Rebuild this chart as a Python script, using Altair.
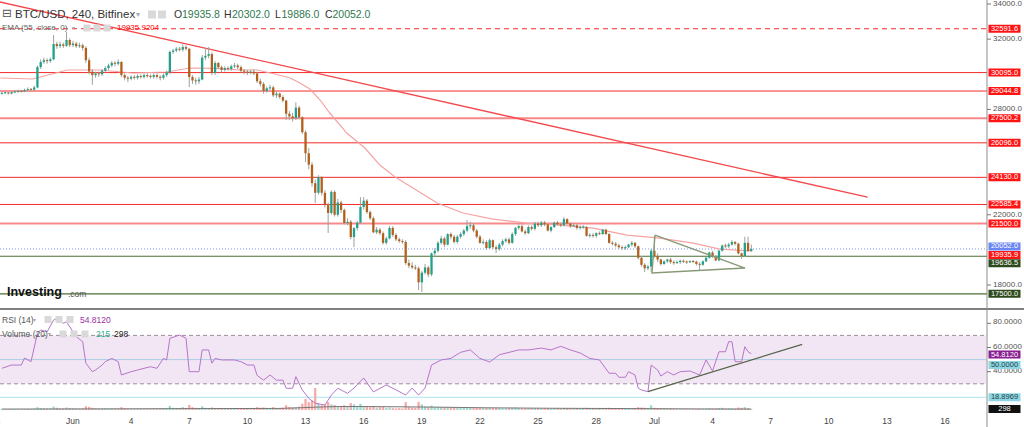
import altair as alt
import pandas as pd
import numpy as np

# ---------------- data ----------------
FIRST_CANDLE = "2022-05-28 08:00"   # 4h candles
FIRST_OPEN = 28900.0

close = [
    28930, 28960, 28900, 28980,
    29000, 29050, 29020, 29100, 29150, 29120,
    29250, 30410, 30700, 30800, 30750, 30850,
    31720, 31600, 31700, 31620, 31950, 31660,
    31750, 31600, 31650, 31500, 30800, 30150,
    29950, 30050, 30000, 30200, 30350, 30500,
    30650, 30600, 30700, 29950, 29800, 29750,
    29850, 29800, 29900, 29850, 29950, 29900,
    29850, 29950, 29850, 29800, 29950, 30100,
    31270, 31350, 31450, 31400, 31550, 31450,
    29840, 29650, 29600, 29700, 30950, 31050,
    31150, 30070, 30640, 30400, 30250, 30350,
    30300, 30450, 30500, 30400, 30200, 30150,
    30100, 30150, 30050, 29600, 29450, 29050,
    29200, 29250, 28800, 28900, 28700, 28500,
    27750, 27600, 27500, 28100, 27550, 26700,
    25500, 24850, 23800, 23250, 24150, 23250,
    22550, 22100, 23300, 22000, 22700, 22270,
    21530, 21600, 20730, 21240, 21550, 22440,
    22800, 22150, 21800, 21000, 21150, 20950,
    20400, 20650, 21250, 20850, 20600, 20500,
    20450, 19250, 19100, 19000, 18950, 18150,
    18700, 19000, 18600, 19800, 19950, 20400,
    20650, 20300, 20900, 20750, 20450, 20750,
    20900, 21100, 21350, 21400, 21100, 20750,
    20400, 20450, 20100, 20550, 20150, 20050,
    20300, 20500, 20600, 20400, 20900, 21250,
    21350, 21050, 20950, 21300, 21200, 21500,
    21400, 21550, 21450, 21100, 21300, 21550,
    21450, 21400, 21750, 21500, 21350, 21400,
    21250, 21300, 21300, 20800, 20850, 20800,
    20950, 20900, 21150, 20900, 20400, 20350,
    20250, 20150, 20100, 20150, 20300, 20400,
    20200, 19550, 19150, 18950, 19050, 19950,
    19650, 19450, 19200, 19350, 19450, 19300,
    19250, 19300, 19380, 19320, 19300, 19350,
    19330, 19200, 19150, 19350, 19550, 19850,
    19600, 19400, 19950, 20250, 20200, 20300,
    20450, 20350, 19800, 19650, 20400, 19935.8,
    20052.0,
]
high = [
    29000, 29030, 29000, 29040,
    29080, 29120, 29100, 29180, 29250, 29220,
    29350, 30500, 30850, 30950, 30900, 30950,
    32235, 31850, 31850, 31800, 32400, 32050,
    31900, 31850, 31800, 31750, 31600, 30950,
    30300, 30150, 30150, 30300, 30450, 30600,
    30750, 30750, 30850, 30750, 30050, 29900,
    29950, 29950, 30000, 29980, 30050, 30050,
    30000, 30050, 30050, 29950, 30050, 30200,
    31350, 31450, 31550, 31550, 31700, 31650,
    31500, 29950, 29800, 29850, 31100, 31500,
    31550, 31250, 30750, 30700, 30500, 30450,
    30450, 30550, 30650, 30600, 30500, 30300,
    30250, 30250, 30300, 30150, 29750, 29550,
    29300, 29400, 29350, 29000, 28950, 28800,
    28550, 27900, 27800, 28400, 28200, 27600,
    26800, 25800, 25000, 24000, 24250, 24200,
    23400, 22700, 23400, 23400, 22900, 22800,
    22350, 21800, 21700, 21300, 21650, 23000,
    23000, 22900, 22250, 21900, 21300, 21250,
    21050, 20750, 21350, 21350, 20950, 20700,
    20600, 20550, 19450, 19300, 19150, 19050,
    18800, 19200, 19100, 19850, 20100, 20500,
    20800, 20750, 20950, 21000, 20850, 20850,
    21000, 21200, 21700, 21600, 21500, 21200,
    20850, 20600, 20550, 20650, 20600, 20250,
    20400, 20600, 20700, 20700, 21000, 21300,
    21450, 21450, 21150, 21400, 21400, 21600,
    21600, 21650, 21650, 21500, 21350, 21600,
    21650, 21550, 21870, 21800, 21550, 21500,
    21500, 21400, 21400, 21350, 20950, 20950,
    21000, 21050, 21200, 21200, 20950, 20500,
    20450, 20350, 20250, 20250, 20350, 20500,
    20450, 20250, 19650, 19250, 19150, 20050,
    20790, 19800, 19500, 19400, 19500, 19550,
    19400, 19400, 19450, 19450, 19400, 19420,
    19420, 19380, 19300, 19400, 19600, 19900,
    19950, 19700, 20000, 20300, 20350, 20400,
    20550, 20500, 20400, 19850, 20750, 20750,
    20302.0,
]
low = [
    28850, 28880, 28850, 28860,
    28920, 28950, 28960, 28980, 29050, 29050,
    29050, 29200, 30300, 30600, 30600, 30650,
    30800, 31450, 31500, 31500, 31550, 31550,
    31550, 31500, 31500, 31350, 30650, 30000,
    29400, 29800, 29850, 29900, 30100, 30250,
    30400, 30450, 30500, 29850, 29650, 29550,
    29650, 29700, 29700, 29750, 29750, 29800,
    29750, 29750, 29750, 29650, 29700, 29850,
    30000, 31150, 31250, 31300, 31300, 31350,
    29270, 29450, 29400, 29450, 29650, 30800,
    30900, 29950, 29950, 30300, 30100, 30150,
    30200, 30200, 30350, 30300, 30100, 30000,
    29950, 30000, 29950, 29500, 29300, 28900,
    28950, 29100, 28700, 28650, 28600, 28400,
    27400, 27400, 27300, 27400, 27450, 26600,
    25000, 24600, 23600, 22670, 23150, 23100,
    22400, 20960, 22000, 21900, 21900, 22100,
    21450, 21400, 20600, 20160, 21100, 21500,
    22300, 22050, 21700, 20950, 20900, 20850,
    20300, 20300, 20600, 20750, 20500, 20400,
    20350, 19150, 18950, 18900, 18850, 17710,
    17600, 18600, 18450, 18500, 19600, 19850,
    20300, 20150, 20250, 20600, 20350, 20350,
    20650, 20800, 21000, 21200, 21000, 20650,
    20350, 20300, 20000, 20050, 20050, 19820,
    19950, 20200, 20400, 20300, 20350, 20800,
    21150, 21000, 20850, 20900, 21100, 21100,
    21300, 21300, 21350, 21050, 21000, 21250,
    21400, 21300, 21350, 21450, 21250, 21300,
    21150, 21150, 21200, 20750, 20700, 20700,
    20700, 20850, 20850, 20850, 20350, 20250,
    20150, 20050, 20000, 20000, 20100, 20200,
    20100, 19450, 19050, 18740, 18850, 18750,
    19550, 19300, 19100, 19150, 19250, 19200,
    19150, 19200, 19200, 19250, 19200, 19250,
    19250, 19100, 18850, 19100, 19300, 19500,
    19550, 19350, 19350, 19900, 20100, 20100,
    20250, 20250, 19750, 19500, 19600, 19880,
    19886.0,
]
volume = [
    300, 250, 280, 300,
    250, 300, 260, 280, 320, 300,
    400, 900, 600, 500, 450, 500,
    1100, 700, 500, 450, 800, 600,
    500, 450, 400, 500, 1200, 1000,
    700, 500, 400, 450, 500, 400,
    450, 400, 400, 900, 500, 400,
    300, 250, 250, 300, 280, 250,
    250, 280, 260, 300, 350, 400,
    1300, 700, 600, 500, 900, 600,
    1600, 900, 700, 600, 1200, 700,
    600, 800, 600, 500, 450, 400,
    400, 350, 380, 400, 420, 380,
    450, 400, 500, 900, 700, 800,
    600, 500, 900, 600, 550, 700,
    1500, 1000, 800, 900, 1100, 2000,
    3500, 2500, 3000, 7000, 2000, 1500,
    1800, 2500, 1800, 1600, 1200, 1000,
    1500, 1200, 2200, 1800, 1300, 2000,
    1200, 1000, 900, 1300, 800, 900,
    1000, 700, 800, 600, 500, 600,
    500, 2500, 1000, 800, 700, 2600,
    1800, 1100, 900, 1400, 900, 1000,
    900, 800, 900, 700, 800, 700,
    700, 800, 900, 700, 600, 700,
    700, 600, 800, 700, 600, 700,
    600, 500, 500, 600, 700, 800,
    600, 500, 500, 600, 500, 600,
    500, 400, 400, 500, 400, 500,
    400, 400, 600, 500, 400, 400,
    500, 400, 400, 700, 500, 400,
    400, 400, 500, 500, 700, 500,
    500, 400, 400, 400, 500, 500,
    500, 900, 800, 700, 500, 1500,
    700, 600, 600, 500, 400, 400,
    300, 250, 250, 300, 250, 250,
    250, 300, 300, 250, 350, 500,
    400, 400, 600, 700, 400, 500,
    500, 400, 800, 700, 900, 600,
    215,
]

ema_time = ["2022-05-28 06:00", "2022-05-29 22:00", "2022-05-31 17:00", "2022-06-02 09:00",
            "2022-06-04 02:00", "2022-06-05 20:00", "2022-06-07 01:00", "2022-06-08 08:00",
            "2022-06-09 15:00", "2022-06-10 12:00", "2022-06-11 10:00", "2022-06-12 05:00",
            "2022-06-12 17:00", "2022-06-13 05:30", "2022-06-13 18:00", "2022-06-14 06:00",
            "2022-06-15 03:00", "2022-06-16 01:30", "2022-06-16 20:00", "2022-06-17 15:00",
            "2022-06-18 13:00", "2022-06-19 19:00", "2022-06-21 03:00", "2022-06-22 16:00",
            "2022-06-24 10:00", "2022-06-26 03:00", "2022-06-27 20:00", "2022-06-29 14:00",
            "2022-07-01 07:00", "2022-07-03 00:00", "2022-07-04 09:00", "2022-07-06 00:00"]
ema_value = [29786, 29729, 30242, 30242, 30071, 30128, 30355, 30330,
             30242, 30242, 30014, 29786, 29501, 29160, 28533, 27793,
             26653, 25799, 24830, 24150, 23520, 22667, 22097, 21756,
             21528, 21414, 21243, 20845, 20674, 20389, 20047, 19935.9204]

rsi_idx = [0, 3, 6, 7, 9, 11, 12, 14, 16, 17, 19, 20, 22, 23, 25, 26, 28, 29, 31, 32,
           34, 36, 37, 40, 42, 44, 46, 48, 50, 51, 52, 55, 57, 58, 61, 62, 64, 65, 66, 68,
           72, 74, 76, 78, 79, 81, 83, 85, 87, 88, 90, 91, 93, 95, 97, 100, 102, 104, 107,
           109, 112, 115, 119, 122, 125, 127, 129, 131, 133, 136, 139, 142, 145, 148, 151,
           154, 157, 160, 163, 167, 170, 173, 176, 179, 182, 185, 188, 190, 191, 193, 194,
           196, 197, 198, 200, 201, 203, 204, 206, 208, 210, 213, 216, 218, 220, 222, 224,
           225, 226, 227, 229, 230, 231, 232]
rsi_value = [42.8, 45.5, 45.5, 51.3, 48.3, 71.7, 74.5, 73, 82.7, 84, 80, 81.3, 73, 69, 64.8, 47, 40, 41.4, 45.5, 48.3,
             51, 48.3, 37.3, 40, 41.4, 42.8, 44.1, 42.8, 51, 49.7, 67.6, 70.3, 67.6, 40, 40, 58, 58, 47, 51, 49.7,
             49.7, 48.3, 45.5, 45.5, 37, 33, 37.3, 33, 33, 26.3, 26.3, 35.9, 24.9, 18, 13.9, 12.5, 20.7, 26.3, 22.1,
             26.5, 34.8, 23.3, 29, 25, 20.7, 26.5, 20.7, 26.5, 45.5, 49.7, 51, 56, 58, 51, 48,
             54, 56, 58, 58, 59.5, 58, 61, 58, 55.5, 51, 49.7, 38.7, 38.7, 35.4, 35.4, 40,
             37.3, 26.3, 24.9, 23.5, 45.5, 41.4, 36.4, 40, 37.3, 40, 40.6, 37.3, 49.7, 40.6, 56.5, 56.5,
             64.8, 64.8, 48.3, 48.3, 60.7, 56.5, 54.812]

volma_idx = [0, 30, 60, 86, 92, 97, 104, 112, 125, 135, 150, 170, 195, 215, 232]
volma_value = [300, 350, 450, 500, 700, 900, 1100, 1100, 1000, 900, 700, 550, 450, 350, 298]

red_levels = [30095.0, 29044.8, 26096.0, 24130.0, 22585.4]
pink_levels = [27500.2, 21500.0]
red_dashed_level = [32591.6]
green_levels = [19636.5, 17500.0]
last_price = [20052.0]

trend_time = ["2022-05-28 04:00", "2022-07-12 00:00"]
trend_price = [34130, 23000]
tri_time = ["2022-07-01 00:45", "2022-07-05 16:10", "2022-06-30 21:00", "2022-07-01 00:45"]
tri_price = [20845, 18965, 18681, 20845]
rsi_trend_time = ["2022-06-30 16:00", "2022-07-08 15:00"]
rsi_trend_value = [23.5, 62.6]
rsi_band = [30, 70]
rsi_mid = [50]
rsi_low_line = [18.8969]

price_ticks = [34000, 32000, 28000, 22000, 18000]
rsi_ticks = [80, 60, 40]
day_ticks = ["2022-05-28", "2022-06-01", "2022-06-04", "2022-06-07", "2022-06-10", "2022-06-13",
             "2022-06-16", "2022-06-19", "2022-06-22", "2022-06-25", "2022-06-28", "2022-07-01",
             "2022-07-04", "2022-07-07", "2022-07-10", "2022-07-13", "2022-07-16"]
day_labels = ["28", "Jun", "4", "7", "10", "13", "16", "19", "22", "25", "28", "Jul",
              "4", "7", "10", "13", "16"]

# ---------------- helpers ----------------
EPOCH = pd.Timestamp("1970-01-01")


def to_ms(values):
    return np.asarray((pd.to_datetime(values) - EPOCH) / pd.Timedelta(milliseconds=1), dtype=float)


FONT = "Liberation Sans"
BULL, BEAR, WICK = "#22a08b", "#b3601d", "#98a59d"
VBULL, VBEAR = "#9fd8cf", "#f6aaa8"
RED, PINK, GREEN, BLUE = "#f62a2a", "#f7898a", "#4c6e35", "#7d92ee"

XS = alt.Scale(domain=list(to_ms(["2022-05-28 06:00", "2022-07-18 06:00"])), range=[0.3, 988.7])
PS = alt.Scale(domain=[18000, 34000], range=[285.0, 4.0])
RS = alt.Scale(domain=[0, 100], range=[420.1, 299.1])
VS = alt.Scale(domain=[0, 7000], range=[410, 388])

one = pd.DataFrame({"k": [0]})


def X(field="t"):
    return alt.X(f"{field}:Q", scale=XS, axis=None)


def Yp(field, scale=PS):
    return alt.Y(f"{field}:Q", scale=scale, axis=None)


def text_at(s, x, y, size=8, color="#333", weight="normal", align="left", font=FONT):
    return alt.Chart(one).mark_text(text=s, align=align, baseline="middle", fontSize=size,
                                    color=color, fontWeight=weight, font=font).encode(
        x=alt.value(x), y=alt.value(y))


def icon(x, y, s=7):
    return alt.Chart(one).mark_point(shape="square", filled=True, size=s * s, color="#d9d9d9",
                                     opacity=1).encode(x=alt.value(x), y=alt.value(y))


BOX_SHAPE = "M-4,-1H4V1H-4Z"


def value_box(value, scale, label, fill, tcolor="white", dy=0):
    d = pd.DataFrame({"v": [value], "lab": [label]})
    y = Yp("v", scale)
    b = alt.Chart(d).mark_point(shape=BOX_SHAPE, filled=True, size=64, opacity=1, color=fill,
                                yOffset=dy).encode(x=alt.value(1004.5), y=y)
    t = alt.Chart(d).mark_text(fontSize=7.5, color=tcolor, yOffset=dy, font=FONT, align="center",
                               baseline="middle").encode(x=alt.value(1004.5), y=y, text="lab:N")
    return [b, t]


def hlines(values, scale, color, width=1.0, dash=None, x2=987, opacity=1.0):
    kw = dict(color=color, strokeWidth=width, opacity=opacity)
    if dash:
        kw["strokeDash"] = dash
    return alt.Chart(pd.DataFrame({"v": values})).mark_rule(**kw).encode(
        y=Yp("v", scale), x=alt.value(0), x2=alt.value(x2))


# ---------------- candle table ----------------
c = np.array(close, dtype=float)
o = np.concatenate([[FIRST_OPEN], c[:-1]])
times = pd.date_range(FIRST_CANDLE, periods=len(c), freq="4h")
df = pd.DataFrame({"t": to_ms(times), "o": o, "h": high, "l": low, "c": c, "v": volume})
up = df["c"] >= df["o"]
df["col"] = np.where(up, BULL, BEAR)
df["vcol"] = np.where(up, VBULL, VBEAR)
bt = np.maximum(df["o"], df["c"])
bb = np.minimum(df["o"], df["c"])
mid = (bt + bb) / 2
thin = (bt - bb) < 60
df["bt"] = np.where(thin, mid + 30, bt)
df["bb"] = np.where(thin, mid - 30, bb)
df["z"] = 0

ema_df = pd.DataFrame({"t": to_ms(ema_time), "v": ema_value})
rsi_df = pd.DataFrame({"t": df["t"].values[rsi_idx], "v": rsi_value})
volma_df = pd.DataFrame({"t": df["t"].values[volma_idx], "v": volma_value})
trend_df = pd.DataFrame({"t": to_ms(trend_time), "v": trend_price})
tri_df = pd.DataFrame({"t": to_ms(tri_time), "v": tri_price, "o": range(len(tri_price))})
rtrend_df = pd.DataFrame({"t": to_ms(rsi_trend_time), "v": rsi_trend_value})
xt_df = pd.DataFrame({"t": to_ms(day_ticks), "lab": day_labels})
pt_df = pd.DataFrame({"v": price_ticks, "lab": [f"{p:.1f}" for p in price_ticks]})
rt_df = pd.DataFrame({"v": rsi_ticks, "lab": [f"{p:.4f}" for p in rsi_ticks]})

layers = []

# RSI panel background band
layers.append(alt.Chart(pd.DataFrame({"a": [rsi_band[0]], "b": [rsi_band[1]]})).mark_rect(
    color="#f3e6f4").encode(x=alt.value(0), x2=alt.value(986), y=Yp("a", RS), y2="b:Q"))
layers.append(hlines(rsi_band, RS, "#9a8f9a", 1, [4, 3], x2=986))
layers.append(hlines(rsi_mid, RS, "#a9cfe3", 1, x2=986))
layers.append(hlines(rsi_low_line, RS, "#aee3ec", 1.2, x2=986))

# price levels
layers.append(hlines(red_dashed_level, PS, RED, 1, [5, 4]))
layers.append(hlines(red_levels, PS, RED, 1))
layers.append(hlines(pink_levels, PS, PINK, 2))
layers.append(hlines(green_levels, PS, GREEN, 1.2))
layers.append(hlines(last_price, PS, BLUE, 1, [1, 2]))

# EMA
layers.append(alt.Chart(ema_df).mark_line(color="#f5a3a3", strokeWidth=1.2).encode(x=X(), y=Yp("v")))

# trend line
layers.append(alt.Chart(trend_df).mark_line(color="#f3494c", strokeWidth=1.4).encode(x=X(), y=Yp("v")))

# volume
layers.append(alt.Chart(df).mark_rule(strokeWidth=2.3).encode(
    x=X(), y=Yp("z", VS), y2="v:Q", color=alt.Color("vcol:N", scale=None)))
layers.append(alt.Chart(volma_df).mark_line(color="#777", strokeWidth=1).encode(x=X(), y=Yp("v", VS)))

# candles
layers.append(alt.Chart(df).mark_rule(strokeWidth=1, color=WICK).encode(x=X(), y=Yp("l"), y2="h:Q"))
layers.append(alt.Chart(df).mark_rule(strokeWidth=2.3).encode(
    x=X(), y=Yp("bb"), y2="bt:Q", color=alt.Color("col:N", scale=None)))

# triangle
layers.append(alt.Chart(tri_df).mark_line(color="#879a78", strokeWidth=1.4).encode(
    x=X(), y=Yp("v"), order="o:Q"))

# RSI
layers.append(alt.Chart(rsi_df).mark_line(color="#b675c9", strokeWidth=1).encode(x=X(), y=Yp("v", RS)))
layers.append(alt.Chart(rtrend_df).mark_line(color="#56644a", strokeWidth=1.2).encode(x=X(), y=Yp("v", RS)))

# separators / axis lines
layers.append(alt.Chart(one).mark_rule(color="#555", strokeWidth=1.5).encode(
    x=alt.value(0), x2=alt.value(1024), y=alt.value(309)))
layers.append(alt.Chart(one).mark_rule(color="#8c8c8c", strokeWidth=1).encode(
    x=alt.value(987), y=alt.value(0), y2=alt.value(427)))

# right axis ticks
layers.append(alt.Chart(pt_df).mark_rule(color="#777").encode(
    x=alt.value(987), x2=alt.value(991), y=Yp("v")))
layers.append(alt.Chart(pt_df).mark_text(align="left", baseline="middle", fontSize=8, color="#555",
                                         font=FONT).encode(x=alt.value(993), y=Yp("v"), text="lab:N"))
layers.append(alt.Chart(rt_df).mark_rule(color="#777").encode(
    x=alt.value(987), x2=alt.value(991), y=Yp("v", RS)))
layers.append(alt.Chart(rt_df).mark_text(align="left", baseline="middle", fontSize=8, color="#555",
                                         font=FONT, yOffset=-1).encode(x=alt.value(993), y=Yp("v", RS), text="lab:N"))

# right value boxes
for lvl in red_dashed_level + red_levels[:2]:
    layers += value_box(lvl, PS, f"{lvl:.1f}", "#ff1414")
layers += value_box(pink_levels[0], PS, f"{pink_levels[0]:.1f}", "#ff1414")
for lvl in red_levels[2:]:
    layers += value_box(lvl, PS, f"{lvl:.1f}", "#ff1414")
layers += value_box(pink_levels[1], PS, f"{pink_levels[1]:.1f}", "#ff1414")
layers += value_box(green_levels[0], PS, f"{green_levels[0]:.1f}", "#2d4a1c", dy=7)
layers += value_box(ema_value[-1], PS, f"{ema_value[-1]:.1f}", "#ff1414", dy=4)
layers += value_box(last_price[0], PS, f"{last_price[0]:.1f}", "#6b86f0", dy=-2.5)
layers += value_box(green_levels[1], PS, f"{green_levels[1]:.1f}", "#2d4a1c")
layers += value_box(rsi_low_line[0], RS, f"{rsi_low_line[0]:.4f}", "#8ed6e3", tcolor="#244")
layers += value_box(rsi_mid[0], RS, f"{rsi_mid[0]:.4f}", "#8ed6e3", tcolor="#244", dy=5.5)
layers += value_box(rsi_value[-1], RS, f"{rsi_value[-1]:.4f}", "#8a1f92", dy=0.8)
layers += value_box(volma_value[-1], VS, f"{volma_value[-1]}", "#111")

# x-axis labels
layers.append(alt.Chart(xt_df).mark_text(baseline="middle", fontSize=8.5, color="#444", font=FONT).encode(
    x=X(), y=alt.value(420.5), text="lab:N"))

# header texts
layers.append(text_at("⊟", 2, 14, 11.5, "#555", font="DejaVu Sans"))
layers.append(text_at("BTC/USD, 240, Bitfinex", 15, 14.5, 11.5, "#333"))
layers.append(text_at("▾", 136, 14.5, 8, "#aaa", font="DejaVu Sans"))
layers.append(icon(152, 14.5, 8))
layers.append(icon(162, 14.5, 8))
for lab, x0, val, x1 in [("O", 174, "19935.8", 182), ("H", 224, "20302.0", 232),
                         ("L", 275, "19886.0", 281.5), ("C", 325, "20052.0", 332.5)]:
    layers.append(text_at(lab, x0, 14.5, 10.5, "#333"))
    layers.append(text_at(val, x1, 14.5, 10.5, "#2f7a4f"))
layers.append(text_at("EMA (55, close, 0)", 2, 28, 8, "#666"))
layers.append(text_at("▾", 72, 28, 6, "#aaa", font="DejaVu Sans"))
for xi in (87, 97, 107):
    layers.append(icon(xi, 28, 7))
layers.append(text_at(f"{ema_value[-1]:.4f}", 117, 28, 8, "#ff0000"))

layers.append(text_at("RSI (14)", 2, 319.5, 8.5, "#555"))
layers.append(text_at("▾", 33, 319.5, 6, "#aaa", font="DejaVu Sans"))
for xi in (48, 59, 70):
    layers.append(icon(xi, 319.5, 7))
layers.append(text_at("54.8120", 80, 319.5, 8.5, "#9c2fa8"))
layers.append(text_at("Volume (20)", 2, 334, 8.5, "#555"))
layers.append(text_at("▾", 48, 334, 6, "#aaa", font="DejaVu Sans"))
for xi in (63, 74, 85):
    layers.append(icon(xi, 334, 7))
layers.append(text_at("215", 96, 334, 8.5, "#25b08a"))
layers.append(text_at("298", 114, 334, 8.5, "#222"))

# logo
layers.append(text_at("Investing", 7, 292, 12.5, "#111", weight="bold"))
layers.append(text_at(".com", 68, 294, 8.5, "#555"))

chart = alt.layer(*layers).resolve_scale(x="independent", y="independent").properties(
    width=1024, height=427, padding=0, autosize=alt.AutoSizeParams(type="none"),
    background="white").configure_view(stroke=None)

chart.save("out.html", embed_options={"renderer": "svg", "actions": False})
